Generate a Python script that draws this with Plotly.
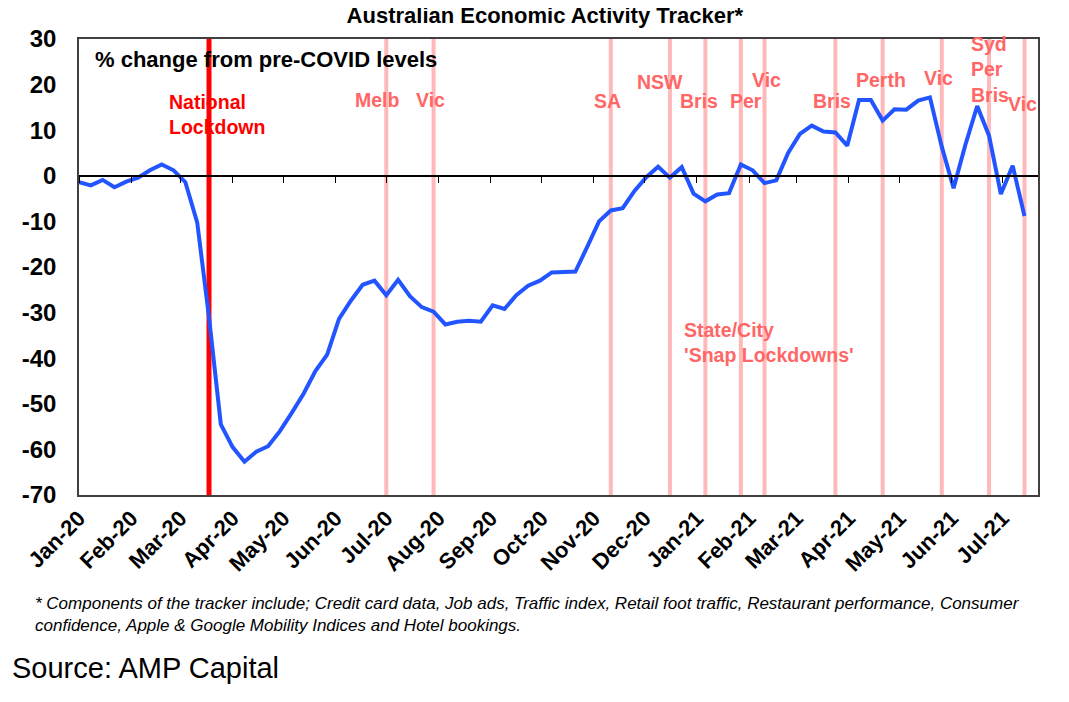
import pandas as pd
import plotly.graph_objects as go

# weekly tracker, % change from pre-COVID levels
dates = pd.date_range("2020-01-01", periods=81, freq="7D")
activity = [
    -1.4, -2.1, -0.9, -2.5, -1.3, -0.4, 1.2, 2.5, 1.2, -1.4,
    -10.2, -31.0, -54.5, -59.5, -62.7, -60.5, -59.3, -56.0, -52.0, -47.8,
    -42.8, -39.2, -31.4, -27.4, -23.9, -23.0, -26.2, -22.8, -26.4, -28.8,
    -29.8, -32.6, -32.0, -31.8, -32.0, -28.4, -29.2, -26.2, -24.1, -23.0,
    -21.2, -21.0, -21.0, -15.6, -10.0, -7.6, -7.1, -3.3, -0.3, 2.0,
    -0.4, 1.9, -3.9, -5.6, -4.1, -3.8, 2.5, 1.2, -1.6, -1.0,
    5.0, 9.2, 11.0, 9.7, 9.5, 6.6, 16.6, 16.6, 12.1, 14.6,
    14.5, 16.5, 17.2, 6.4, -2.7, 6.8, 15.3, 8.8, -4.0, 2.2,
    -8.8,
]

y_ticks = [30, 20, 10, 0, -10, -20, -30, -40, -50, -60, -70]
y_ticktext = [str(v) for v in y_ticks]   # plain hyphen, like the original

national_lockdown = "2020-03-18"
snap_dates = ["2020-07-01", "2020-07-29", "2020-11-11", "2020-12-16", "2021-01-06",
              "2021-01-27", "2021-02-10", "2021-03-24", "2021-04-21", "2021-05-26",
              "2021-06-23", "2021-07-14"]
snap_labels = ["Melb", "Vic", "SA", "NSW", "Bris", "Per", "Vic", "Bris", "Perth",
               "Vic", "Syd<br>Per<br>Bris", "Vic"]

FONT = "Arial, Liberation Sans, sans-serif"
PINK_LINE = "#FFB9B9"
PINK_TEXT = "#FF6666"

fig = go.Figure()

fig.add_trace(go.Scatter(x=dates, y=activity, mode="lines",
                         line=dict(color="#2255FF", width=4), showlegend=False))
# dummy trace so the zero-line axis with month ticks gets drawn
fig.add_trace(go.Scatter(x=[dates[0]], y=[0], xaxis="x2", mode="markers",
                         marker=dict(opacity=0), showlegend=False, hoverinfo="skip"))

for d in snap_dates:
    fig.add_vline(x=d, line=dict(color=PINK_LINE, width=4), layer="below")
fig.add_vline(x=national_lockdown, line=dict(color="#FF0000", width=5), layer="below")

# label placement (date of text centre, y value)
label_pos = [("2020-06-26", 16.6), ("2020-07-27", 16.6), ("2020-11-09", 16.4),
             ("2020-12-10", 20.6), ("2021-01-02", 16.4), ("2021-01-30", 16.4),
             ("2021-02-11", 21.0), ("2021-03-22", 16.4), ("2021-04-20", 21.0),
             ("2021-05-24", 21.5), ("2021-06-11", 23.4), ("2021-07-13", 15.8)]
for (x, y), txt in zip(label_pos, snap_labels):
    multi = "<br>" in txt
    fig.add_annotation(x=x, y=y, text=txt, showarrow=False,
                       xanchor="left" if multi else "center", align="left",
                       font=dict(family=FONT, size=19.5, color=PINK_TEXT, weight="bold"))

fig.add_annotation(x="2020-02-22", y=13.4, text="National<br>Lockdown", showarrow=False,
                   xanchor="left", align="left",
                   font=dict(family=FONT, size=19.5, color="#FF0000", weight="bold"))
fig.add_annotation(x="2020-12-23", y=-36.5, text="State/City<br>'Snap Lockdowns'",
                   showarrow=False, xanchor="left", align="left",
                   font=dict(family=FONT, size=19.5, color=PINK_TEXT, weight="bold"))
fig.add_annotation(x=0.0146, y=25.4, xref="paper", text="% change from pre-COVID levels",
                   showarrow=False, xanchor="left",
                   font=dict(family=FONT, size=22, color="black", weight="bold"))

# footnote and source, below the plot
fig.add_annotation(x=-0.048, y=-0.262, xref="paper", yref="paper", xanchor="left", yanchor="middle",
                   align="left", showarrow=False,
                   text="* Components of the tracker include; Credit card data, Job ads, Traffic index, "
                        "Retail foot traffic, Restaurant performance, Consumer<br>"
                        "confidence, Apple &amp; Google Mobility Indices and Hotel bookings.",
                   font=dict(family=FONT, size=17, color="black", style="italic"))
fig.add_annotation(x=-0.072, y=-0.379, xref="paper", yref="paper", xanchor="left", yanchor="middle",
                   showarrow=False, text="Source: AMP Capital",
                   font=dict(family=FONT, size=29, color="black"))

x_range = ["2020-01-01", "2021-07-22"]

fig.update_layout(
    width=1061, height=694,
    margin=dict(l=71, r=31, t=31, b=207),
    paper_bgcolor="white", plot_bgcolor="white",
    title=dict(text="<b>Australian Economic Activity Tracker*</b>", x=0.506, xanchor="center",
               y=1, yanchor="top", pad=dict(t=0, b=0),
               font=dict(family=FONT, size=22, color="black")),
    xaxis=dict(range=x_range, type="date", dtick="M1", tick0="2020-01-01",
               tickformat="%b-%y", tickangle=-45, ticks="",
               showgrid=False, showline=True, linecolor="#404040", linewidth=1.5, mirror=True,
               tickfont=dict(family=FONT, size=22, color="black", weight="bold")),
    xaxis2=dict(range=x_range, type="date", dtick="M1", tick0="2020-01-01",
                overlaying="x", anchor="free", position=0.7, side="bottom",
                showticklabels=False, ticks="outside", ticklen=6, tickcolor="black",
                showgrid=False, showline=True, linecolor="black", linewidth=1.5),
    yaxis=dict(range=[-70, 30], tickvals=y_ticks, ticktext=y_ticktext,
               showgrid=False, zeroline=False, ticklabelstandoff=16,
               showline=True, linecolor="#404040", linewidth=1.5, mirror=True, ticks="",
               tickfont=dict(family=FONT, size=24, color="black", weight="bold")),
)

fig.write_html("out.html")
